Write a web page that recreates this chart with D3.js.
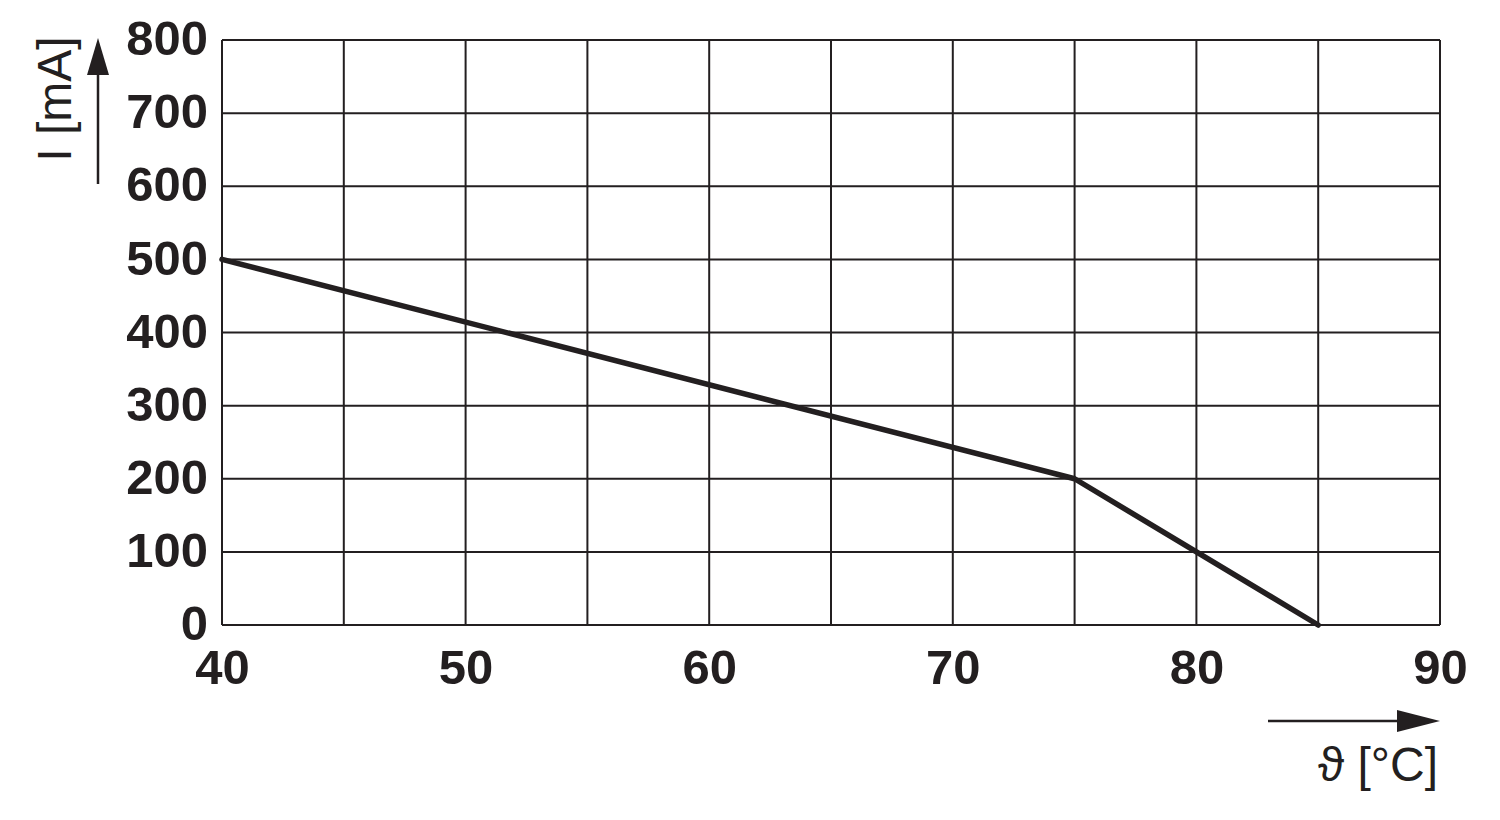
<!DOCTYPE html>
<html><head><meta charset="utf-8">
<script src="https://cdn.jsdelivr.net/npm/d3@7"></script>
<style>html,body{margin:0;padding:0;background:#fff;}</style>
</head><body>
<svg id="chart" width="1500" height="820"></svg>
<script>
const temps = [40, 75, 85];
const currents = [500, 200, 0];
const xTicks = [40, 50, 60, 70, 80, 90];
const xGrid = [40, 45, 50, 55, 60, 65, 70, 75, 80, 85, 90];
const yTicks = [0, 100, 200, 300, 400, 500, 600, 700, 800];
const xTitle = "ϑ [°C]";
const yTitle = "I [mA]";

const ink = "#231f20";
const svg = d3.select("#chart");
const x = d3.scaleLinear().domain([40, 90]).range([222, 1440]);
const y = d3.scaleLinear().domain([0, 800]).range([625, 40]);
const font = "'Liberation Sans', Arial, sans-serif";

// grid
svg.append("g").selectAll("line").data(xGrid).join("line")
  .attr("x1", d => x(d)).attr("x2", d => x(d))
  .attr("y1", y(0)).attr("y2", y(800))
  .attr("stroke", ink).attr("stroke-width", 2);
svg.append("g").selectAll("line").data(yTicks).join("line")
  .attr("x1", x(40)).attr("x2", x(90))
  .attr("y1", d => y(d)).attr("y2", d => y(d))
  .attr("stroke", ink).attr("stroke-width", 2);

// y tick labels
const yAxis = d3.axisLeft(y).tickValues(yTicks).tickSize(0).tickPadding(14);
const gy = svg.append("g").attr("transform", `translate(${x(40)},0)`).call(yAxis);
gy.select(".domain").remove();
gy.selectAll("text").attr("font-family", font).attr("font-weight", "bold")
  .attr("font-size", 49).attr("fill", ink).attr("dy", "0.3em");

// x tick labels
const xAxis = d3.axisBottom(x).tickValues(xTicks).tickSize(0).tickPadding(24);
const gx = svg.append("g").attr("transform", `translate(0,${y(0)})`).call(xAxis);
gx.select(".domain").remove();
gx.selectAll("text").attr("font-family", font).attr("font-weight", "bold")
  .attr("font-size", 49).attr("fill", ink);

// data line
const pts = temps.map((t, i) => [t, currents[i]]);
svg.append("path").datum(pts)
  .attr("d", d3.line().x(d => x(d[0])).y(d => y(d[1])))
  .attr("fill", "none").attr("stroke", ink).attr("stroke-width", 5.5)
  .attr("stroke-linejoin", "round").attr("stroke-linecap", "round");

// y axis arrow + title
svg.append("line").attr("x1", 98).attr("x2", 98).attr("y1", 184).attr("y2", 70)
  .attr("stroke", ink).attr("stroke-width", 2.5);
svg.append("path").attr("d", "M98,38 L87,75 L109,75 Z").attr("fill", ink);
svg.append("text").attr("transform", "translate(71,99) rotate(-90)")
  .attr("text-anchor", "middle").attr("font-family", font).attr("font-size", 48)
  .attr("fill", ink).text(yTitle);

// x axis arrow + title
svg.append("line").attr("x1", 1268).attr("x2", 1405).attr("y1", 721).attr("y2", 721)
  .attr("stroke", ink).attr("stroke-width", 2.5);
svg.append("path").attr("d", "M1440,721 L1397,710 L1397,732 Z").attr("fill", ink);
svg.append("text").attr("x", 1438).attr("y", 781)
  .attr("text-anchor", "end").attr("font-family", font).attr("font-size", 48)
  .attr("fill", ink).text(xTitle);
</script>
</body></html>
